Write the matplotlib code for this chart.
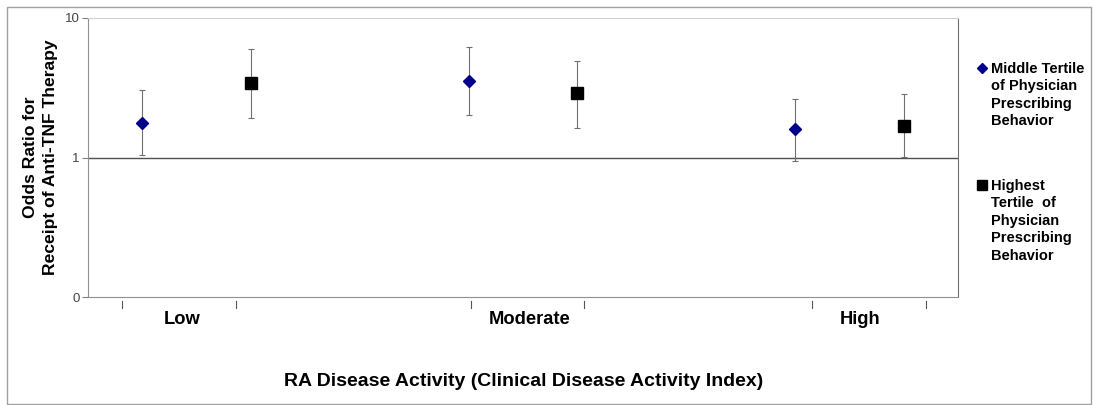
import matplotlib
matplotlib.use("Agg")
import matplotlib.pyplot as plt
from matplotlib.lines import Line2D
from matplotlib.patches import Rectangle
import numpy as np

plt.rcParams['font.family'] = ['Liberation Sans', 'DejaVu Sans']

# ---- data ----
categories = ["Low", "Moderate", "High"]
series_names = ["Middle Tertile\nof Physician\nPrescribing\nBehavior",
                "Highest\nTertile  of\nPhysician\nPrescribing\nBehavior"]
middle_or = [1.77, 3.55, 1.59]
middle_lo = [1.04, 2.02, 0.94]
middle_hi = [3.06, 6.23, 2.61]
highest_or = [3.40, 2.89, 1.69]
highest_lo = [1.93, 1.63, 1.01]
highest_hi = [5.97, 4.94, 2.84]
ytick_values = [0.1, 1, 10]
ytick_labels = ["0", "1", "10"]

fig = plt.figure(figsize=(10.93, 4.05), dpi=100)
ax = fig.add_axes([88/1093, 1-297/405, (958-88)/1093, (297-18)/405])

# outer border
fig.add_artist(Rectangle((7/1093, 1.5/405), (1091-7)/1093, (398-1.5)/405,
                         transform=fig.transFigure, fill=False,
                         edgecolor="#a0a0a0", linewidth=1.0))

group_pos = np.arange(len(categories)) * 3
x_mid = group_pos + 0.0
x_high = group_pos + 1.0

err_kw = dict(fmt='none', ecolor='#707070', elinewidth=0.8, capsize=2.5, capthick=0.8)
ax.errorbar(x_mid, middle_or,
            yerr=[np.array(middle_or) - np.array(middle_lo), np.array(middle_hi) - np.array(middle_or)],
            **err_kw)
ax.errorbar(x_high, highest_or,
            yerr=[np.array(highest_or) - np.array(highest_lo), np.array(highest_hi) - np.array(highest_or)],
            **err_kw)
ax.plot(x_mid, middle_or, linestyle='none', marker='D', markersize=6,
        color='#00008B', markeredgecolor='#00008B', zorder=5)
ax.plot(x_high, highest_or, linestyle='none', marker='s', markersize=8.5,
        color='black', markeredgecolor='black', zorder=5)

ax.axhline(1, color='#505050', linewidth=1.0, zorder=1)

ax.set_yscale('log')
ax.set_ylim(0.1, 10)
ax.set_xlim(-0.5, 7.5)
ax.set_yticks(ytick_values)
ax.set_yticklabels(ytick_labels, fontsize=9.5, color='#444444')
ax.yaxis.set_minor_locator(matplotlib.ticker.NullLocator())
ax.tick_params(axis='y', length=4, width=0.8, color='#808080', pad=2)

# x ticks (category boundaries) and labels
xtick_pos = [-0.19, 0.86, 3.02, 4.06, 6.16, 7.21]
ax.set_xticks([])
px = 139.5  # pixels per decade
for t in xtick_pos:
    ax.plot([t, t], [0.1 * 10 ** (-4/px), 0.1 * 10 ** (-11/px)],
            color='#555555', linewidth=0.8, clip_on=False)
label_x = [0.37, 3.56, 6.6]
for lx, cat in zip(label_x, categories):
    ax.text(lx, 0.1 * 10 ** (-14/px), cat, ha='center', va='top',
            fontsize=13.2, fontweight='bold')

for s in ['left', 'bottom']:
    ax.spines[s].set_color('#909090')
    ax.spines[s].set_linewidth(0.8)
ax.spines['top'].set_color('#d0d0d0')
ax.spines['right'].set_color('#707070')
ax.spines['right'].set_linewidth(0.8)

ax.set_ylabel("Odds Ratio for\nReceipt of Anti-TNF Therapy", fontsize=12.6,
              fontweight='bold', linespacing=1.4, labelpad=5)
fig.text(524/1093, 1-381/405, "RA Disease Activity (Clinical Disease Activity Index)",
         ha='center', va='center', fontsize=14, fontweight='bold')

# legend drawn manually
leg_items = [('D', '#00008B', 5, series_names[0], 68),
             ('s', 'black', 7, series_names[1], 185)]
for mk, col, ms, name, ypx in leg_items:
    fig.add_artist(Line2D([982/1093], [1-ypx/405], marker=mk, markersize=ms,
                          color=col, linestyle='none', transform=fig.transFigure))
    fig.text(991/1093, 1-(ypx-6)/405, name, ha='left', va='top', fontsize=10.5,
             fontweight='bold', linespacing=1.31)

fig.savefig("out.png", dpi=100)
